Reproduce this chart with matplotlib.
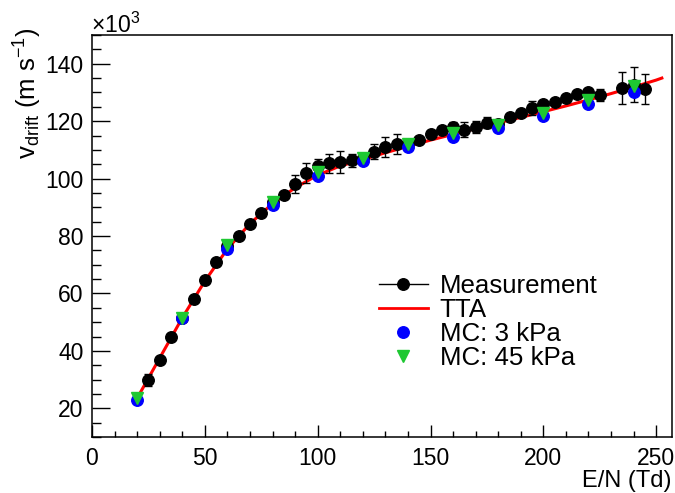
import numpy as np
import matplotlib
matplotlib.use('Agg')
import matplotlib.pyplot as plt
from matplotlib.lines import Line2D
from matplotlib.ticker import MultipleLocator

plt.rcParams['font.family'] = ['Liberation Sans', 'DejaVu Sans']
plt.rcParams['mathtext.fontset'] = 'custom'
plt.rcParams['mathtext.rm'] = 'Liberation Sans'
plt.rcParams['mathtext.it'] = 'Liberation Sans:italic'

# Measurement (E/N in Td, v_drift in 10^3 m/s)
meas_en = [25, 30, 35, 40, 45, 50, 55, 60, 65, 70, 75, 80, 85, 90, 95, 100, 105, 110,
           115, 120, 125, 130, 135, 140, 145, 150, 155, 160, 165, 170, 175, 180, 185,
           190, 195, 200, 205, 210, 215, 220, 225, 235, 240, 245]
meas_v = [29.8, 36.8, 44.9, 51.4, 57.9, 64.6, 71.0, 76.5, 80.0, 84.1, 88.1, 91.8, 94.3,
          98.1, 101.9, 104.4, 105.3, 105.7, 106.3, 107.3, 109.4, 111.1, 112.0, 112.0,
          113.5, 115.6, 117.0, 118.1, 117.0, 118.1, 119.5, 119.0, 121.3, 123.0, 124.6,
          126.0, 126.8, 128.2, 129.4, 130.3, 129.2, 131.5, 132.7, 131.2]
meas_err = [2.0, 0.8, 0.8, 0.8, 0.8, 0.8, 0.8, 0.8, 0.8, 0.8, 0.8, 0.8, 0.8,
            3.2, 3.5, 2.5, 3.3, 3.9, 2.2, 0.8, 2.5, 3.5, 3.6, 0.8,
            0.8, 0.8, 0.8, 1.7, 2.6, 2.1, 1.9, 0.8, 0.8, 0.8, 2.3,
            0.8, 0.8, 0.8, 0.8, 0.8, 2.1, 5.5, 6.2, 5.2]

# TTA curve
tta_en = [20, 30, 40, 50, 60, 70, 80, 90, 100, 110, 120, 130, 140, 150, 160, 170,
          180, 190, 200, 210, 220, 230, 240, 250, 252.5]
tta_v = [23.5, 37.5, 51.5, 64.3, 75.5, 84.3, 91.3, 96.8, 101.2, 104.4, 106.6, 109.0,
         111.2, 113.4, 115.4, 117.4, 119.4, 121.3, 123.3, 125.3, 127.4, 129.6, 131.9,
         134.3, 135.0]

# Monte Carlo
mc_en = [20, 40, 60, 80, 100, 120, 140, 160, 180, 200, 220, 240]
mc3_v = [22.8, 51.5, 75.3, 90.8, 100.9, 106.0, 111.0, 114.6, 117.5, 121.9, 126.0, 130.3]
mc45_v = [23.6, 51.3, 76.9, 92.0, 102.4, 107.1, 112.0, 115.8, 118.7, 123.0, 127.2, 132.3]

green = '#1ec832'

fig = plt.figure(figsize=(6.75, 4.93), dpi=100)
ax = fig.add_axes([92/675, 56/493, 580/675, 402/493])

ax.plot(tta_en, tta_v, color='red', lw=2.2, zorder=1)
ax.errorbar(meas_en, meas_v, yerr=meas_err, fmt='o', color='black', ms=8.3,
            elinewidth=1, capsize=2.7, capthick=1, zorder=2)
ax.plot(mc_en, mc3_v, 'o', color='blue', ms=8.3, zorder=3)
ax.plot(mc_en, mc45_v, 'v', color=green, ms=8.8, zorder=4)

ax.set_xlim(0, 257)
ax.set_ylim(10, 150)
ax.xaxis.set_major_locator(MultipleLocator(50))
ax.xaxis.set_minor_locator(MultipleLocator(10))
ax.yaxis.set_major_locator(MultipleLocator(20))
ax.yaxis.set_minor_locator(MultipleLocator(5))
ax.tick_params(which='both', direction='in', top=False, right=False, labelsize=16.5,
               width=1)
ax.tick_params(axis='x', which='major', length=8.6, pad=7)
ax.tick_params(axis='x', which='minor', length=4.3)
ax.tick_params(axis='y', which='major', length=12.7, pad=6)
ax.tick_params(axis='y', which='minor', length=6.2)
for s in ax.spines.values():
    s.set_linewidth(1.1)

fig.text(672/675, 6/493, 'E/N (Td)', ha='right', va='baseline', fontsize=17)
fig.text(28/675, 1 - 27/493, r'v$_{\mathrm{drift}}$ (m s$^{\mathrm{-1}}$)',
         rotation=90, ha='center', va='top', fontsize=18.5)
fig.text(91/675, 1 - 33/493, r'$\times$10$^{\mathrm{3}}$', ha='left', va='baseline',
         fontsize=16.5)

handles = [Line2D([], [], color='black', lw=1, marker='o', ms=8.3),
           Line2D([], [], color='red', lw=2),
           Line2D([], [], color='blue', marker='o', ls='none', ms=8.3),
           Line2D([], [], color=green, marker='v', ls='none', ms=8.8)]
labels = ['Measurement', 'TTA', 'MC: 3 kPa', 'MC: 45 kPa']
ax.legend(handles, labels, loc='upper left', bbox_to_anchor=(366/675, 1 - 261/493),
          bbox_transform=fig.transFigure, frameon=False, fontsize=18.6,
          handlelength=1.9, handletextpad=0.45, labelspacing=0.0, borderpad=0)

fig.savefig('out.png', dpi=100)
